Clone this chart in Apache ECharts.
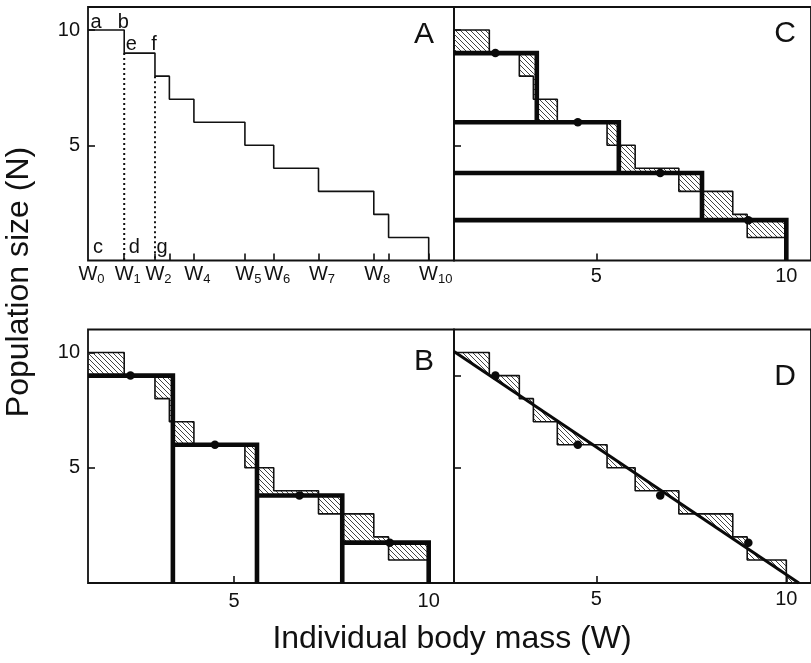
<!DOCTYPE html>
<html>
<head>
<meta charset="utf-8">
<script src="https://cdn.jsdelivr.net/npm/echarts@6/dist/echarts.min.js"></script>
<style>
  html, body { margin: 0; padding: 0; background: #fff; }
  #chart { width: 811px; height: 663px; }
</style>
</head>
<body>
<div id="chart"></div>
<script>
// Boundaries W0..W10 of the individual body-mass steps
const massBounds = [1.25, 2.18, 2.97, 3.34, 3.97, 5.28, 6.02, 7.17, 8.59, 8.97, 10.0];
// Population size N on each interval [W_i, W_i+1]
const popLevels = [10, 9, 8, 7, 6, 5, 4, 3, 2, 1];
// Four mass classes of equal width and their mean population size
const classBounds = [1.25, 3.43, 5.59, 7.78, 10.0];
const classLevels = [9, 6, 3.8, 1.75];
// Mean body mass of each class (dots)
const classMeanMass = [2.34, 4.51, 6.68, 9.0];
// Straight-line fit, given by its two end points
const fitLine = [[1.25, 10.05], [10.33, 0]];
// Axis extents and ticks
const massRange = [1.25, 10.65];
const popRange = [0, 11];
const massTicks = [5, 10];
const popTicks = [5, 10];
const popTicksD = [5, 9];
// W indices carrying a label under panel A
const wLabelIdx = [0, 1, 2, 4, 5, 6, 7, 8, 10];
// Corner letters of panel A: letter, W index, N
const cornerLetters = [['a', 0, 10], ['b', 1, 10], ['e', 1, 9], ['f', 2, 9], ['c', 0, 0], ['d', 1, 0], ['g', 2, 0]];
const panelNames = ['A', 'C', 'B', 'D'];

const FONT = '"Liberation Sans", Arial, Helvetica, sans-serif';
const INK = '#111';

// diagonal hatch pattern
function makeHatch() {
  const s = 5;
  const c = document.createElement('canvas');
  c.width = s; c.height = s;
  const g = c.getContext('2d');
  g.strokeStyle = '#2e2e2e';
  g.lineWidth = 0.9;
  g.beginPath();
  g.moveTo(-1, -1); g.lineTo(s + 1, s + 1);
  g.moveTo(-1, s - 1); g.lineTo(1, s + 1);
  g.moveTo(s - 1, -1); g.lineTo(s + 1, 1);
  g.stroke();
  return c;
}
const hatchFill = { image: makeHatch(), repeat: 'repeat' };

const stepAt = x => {
  for (let i = 0; i < popLevels.length; i++) if (x < massBounds[i + 1]) return popLevels[i];
  return 0;
};
const classAt = x => {
  for (let i = 0; i < classLevels.length; i++) if (x < classBounds[i + 1]) return classLevels[i];
  return 0;
};
const fitAt = x => {
  const [[x0, y0], [x1, y1]] = fitLine;
  return y0 + (y1 - y0) * (x - x0) / (x1 - x0);
};

// step outline points
const stepPoints = massBounds.map((w, i) => [w, i < popLevels.length ? popLevels[i] : 0]);

// hatched gaps between the step outline and the class means
const breaks = Array.from(new Set(massBounds.concat(classBounds))).sort((a, b) => a - b);
const classGaps = [];
for (let i = 0; i < breaks.length - 1; i++) {
  const a = breaks[i], b = breaks[i + 1], m = (a + b) / 2;
  const f = stepAt(m), g = classAt(m);
  if (f !== g) classGaps.push([a, b, Math.min(f, g), Math.max(f, g)]);
}
// hatched gaps between the step outline and the fitted line
const fitGaps = [];
for (let i = 0; i < popLevels.length; i++) fitGaps.push([massBounds[i], massBounds[i + 1], popLevels[i]]);
fitGaps.push([massBounds[massBounds.length - 1], fitLine[1][0], 0]);

// thick class outlines
const barOutline = classLevels.map((h, i) => [classBounds[i], classBounds[i + 1], h, 0]);
const ladderOutline = classLevels.map((h, i) => [classBounds[0], classBounds[i + 1], h,
  i + 1 < classLevels.length ? classLevels[i + 1] : 0]);

const dots = classMeanMass.map((x, i) => [x, classLevels[i]]);

const grids = [
  { left: 88, top: 7, width: 366, height: 253.5 },   // A
  { left: 454, top: 7, width: 366, height: 253.5 },  // C
  { left: 88, top: 329.5, width: 366, height: 253.5 }, // B
  { left: 454, top: 329.5, width: 366, height: 253.5 } // D
].map(g => Object.assign(g, { show: true, borderColor: INK, borderWidth: 1.8, backgroundColor: 'transparent' }));

const tickStyle = { inside: true, length: 7, lineStyle: { color: INK, width: 1.6 } };
const numLabel = { fontSize: 20, fontFamily: FONT, color: INK };

function xAxisFor(idx) {
  const base = {
    type: 'value', gridIndex: idx, min: massRange[0], max: massRange[1],
    axisLine: { show: false }, splitLine: { show: false }
  };
  if (idx === 0) {
    return Object.assign(base, {
      axisTick: Object.assign({ customValues: massBounds.slice(1) }, tickStyle),
      axisLabel: {
        customValues: wLabelIdx.map(i => massBounds[i]),
        margin: 3,
        formatter: v => {
          const i = massBounds.indexOf(v);
          return (i >= 10 ? '{w2|W}' : '{w1|W}') + '{s|' + i + '}';
        },
        rich: {
          w1: { fontSize: 20, fontFamily: FONT, color: INK, lineHeight: 22, padding: [0, 0, 0, 7] },
          w2: { fontSize: 20, fontFamily: FONT, color: INK, lineHeight: 22, padding: [0, 0, 0, 14] },
          s: { fontSize: 13, fontFamily: FONT, color: INK, lineHeight: 13, verticalAlign: 'bottom' }
        }
      }
    });
  }
  return Object.assign(base, {
    axisTick: Object.assign({ customValues: massTicks }, tickStyle),
    axisLabel: Object.assign({ customValues: massTicks, margin: idx === 2 ? 8 : 6 }, numLabel)
  });
}
function yAxisFor(idx) {
  const ticks = idx === 3 ? popTicksD : popTicks;
  return {
    type: 'value', gridIndex: idx, min: popRange[0], max: popRange[1],
    axisLine: { show: false }, splitLine: { show: false },
    axisTick: Object.assign({ customValues: ticks }, tickStyle),
    axisLabel: Object.assign({ show: idx === 0 || idx === 2, customValues: popTicks, margin: 8 }, numLabel)
  };
}

function stepSeries(idx) {
  return {
    type: 'line', xAxisIndex: idx, yAxisIndex: idx, data: stepPoints, step: 'end',
    symbol: 'none', z: 3, clip: false,
    lineStyle: { color: INK, width: 1.6 }
  };
}
function gapSeries(idx) {
  return {
    type: 'custom', xAxisIndex: idx, yAxisIndex: idx, data: classGaps, z: 2,
    renderItem: (p, api) => {
      const p0 = api.coord([api.value(0), api.value(3)]);
      const p1 = api.coord([api.value(1), api.value(2)]);
      return { type: 'rect', shape: { x: p0[0], y: p0[1], width: p1[0] - p0[0], height: p1[1] - p0[1] },
        style: { fill: hatchFill } };
    }
  };
}
function outlineSeries(idx, data) {
  return {
    type: 'custom', xAxisIndex: idx, yAxisIndex: idx, data: data, z: 4,
    renderItem: (p, api) => {
      const x0 = api.value(0), x1 = api.value(1), h = api.value(2), hEnd = api.value(3);
      const pts = [[x0, h], [x1, h], [x1, hEnd]].map(q => api.coord(q));
      return { type: 'polyline', shape: { points: pts },
        style: { stroke: '#0a0a0a', lineWidth: 4.6, fill: null, lineJoin: 'miter', lineCap: 'butt' } };
    }
  };
}
function dotSeries(idx) {
  return {
    type: 'scatter', xAxisIndex: idx, yAxisIndex: idx, data: dots, z: 6,
    symbol: 'circle', symbolSize: 8.5, itemStyle: { color: '#0a0a0a', opacity: 1 }
  };
}

const letterOffsets = { a: [8, -8], b: [-1, -8], e: [7, -9], f: [-1, -9], c: [10, -13], d: [10, -13], g: [7, -13] };

const series = [
  // panel A
  stepSeries(0),
  { type: 'line', xAxisIndex: 0, yAxisIndex: 0, symbol: 'none', z: 2,
    data: [[massBounds[1], popLevels[1]], [massBounds[1], 0]],
    lineStyle: { color: INK, width: 2, type: [2, 3] } },
  { type: 'line', xAxisIndex: 0, yAxisIndex: 0, symbol: 'none', z: 2,
    data: [[massBounds[2], popLevels[2]], [massBounds[2], 0]],
    lineStyle: { color: INK, width: 2, type: [2, 3] } },
  { type: 'scatter', xAxisIndex: 0, yAxisIndex: 0, symbolSize: 0, z: 7,
    itemStyle: { opacity: 1 },
    data: cornerLetters.map(([t, wi, n]) => ({
      name: t, value: [massBounds[wi], n],
      label: { offset: letterOffsets[t] }
    })),
    label: { show: true, position: 'inside', formatter: '{b}', fontSize: 20, fontFamily: FONT, color: INK } },
  // panel C
  gapSeries(1), stepSeries(1), outlineSeries(1, ladderOutline), dotSeries(1),
  // panel B
  gapSeries(2), stepSeries(2), outlineSeries(2, barOutline), dotSeries(2),
  // panel D
  {
    type: 'custom', xAxisIndex: 3, yAxisIndex: 3, data: fitGaps, z: 2,
    renderItem: (p, api) => {
      const a = api.value(0), b = api.value(1), lv = api.value(2);
      const pts = [[a, lv], [b, lv], [b, fitAt(b)], [a, fitAt(a)]].map(q => api.coord(q));
      return { type: 'polygon', shape: { points: pts }, style: { fill: hatchFill } };
    }
  },
  stepSeries(3),
  { type: 'line', xAxisIndex: 3, yAxisIndex: 3, data: fitLine, symbol: 'none', z: 4, clip: false,
    lineStyle: { color: '#0a0a0a', width: 3 } },
  dotSeries(3)
];

const letterPos = [[424, 35], [785, 34], [424, 362], [785, 377]];
const graphic = panelNames.map((t, i) => ({
  type: 'text', x: letterPos[i][0], y: letterPos[i][1],
  style: { text: t, fontSize: 30, fontFamily: FONT, fill: INK, align: 'center', verticalAlign: 'middle' }
})).concat([
  { type: 'text', x: 19, y: 282, rotation: Math.PI / 2,
    style: { text: 'Population size (N)', fontSize: 32, fontFamily: FONT, fill: INK, align: 'center', verticalAlign: 'middle' } },
  { type: 'text', x: 452, y: 639,
    style: { text: 'Individual body mass (W)', fontSize: 32, fontFamily: FONT, fill: INK, align: 'center', verticalAlign: 'middle' } }
]);

const chart = echarts.init(document.getElementById('chart'), null, { renderer: 'canvas' });
chart.setOption({
  animation: false,
  backgroundColor: '#fff',
  grid: grids,
  xAxis: [0, 1, 2, 3].map(xAxisFor),
  yAxis: [0, 1, 2, 3].map(yAxisFor),
  series: series,
  graphic: graphic
});
</script>
</body>
</html>
